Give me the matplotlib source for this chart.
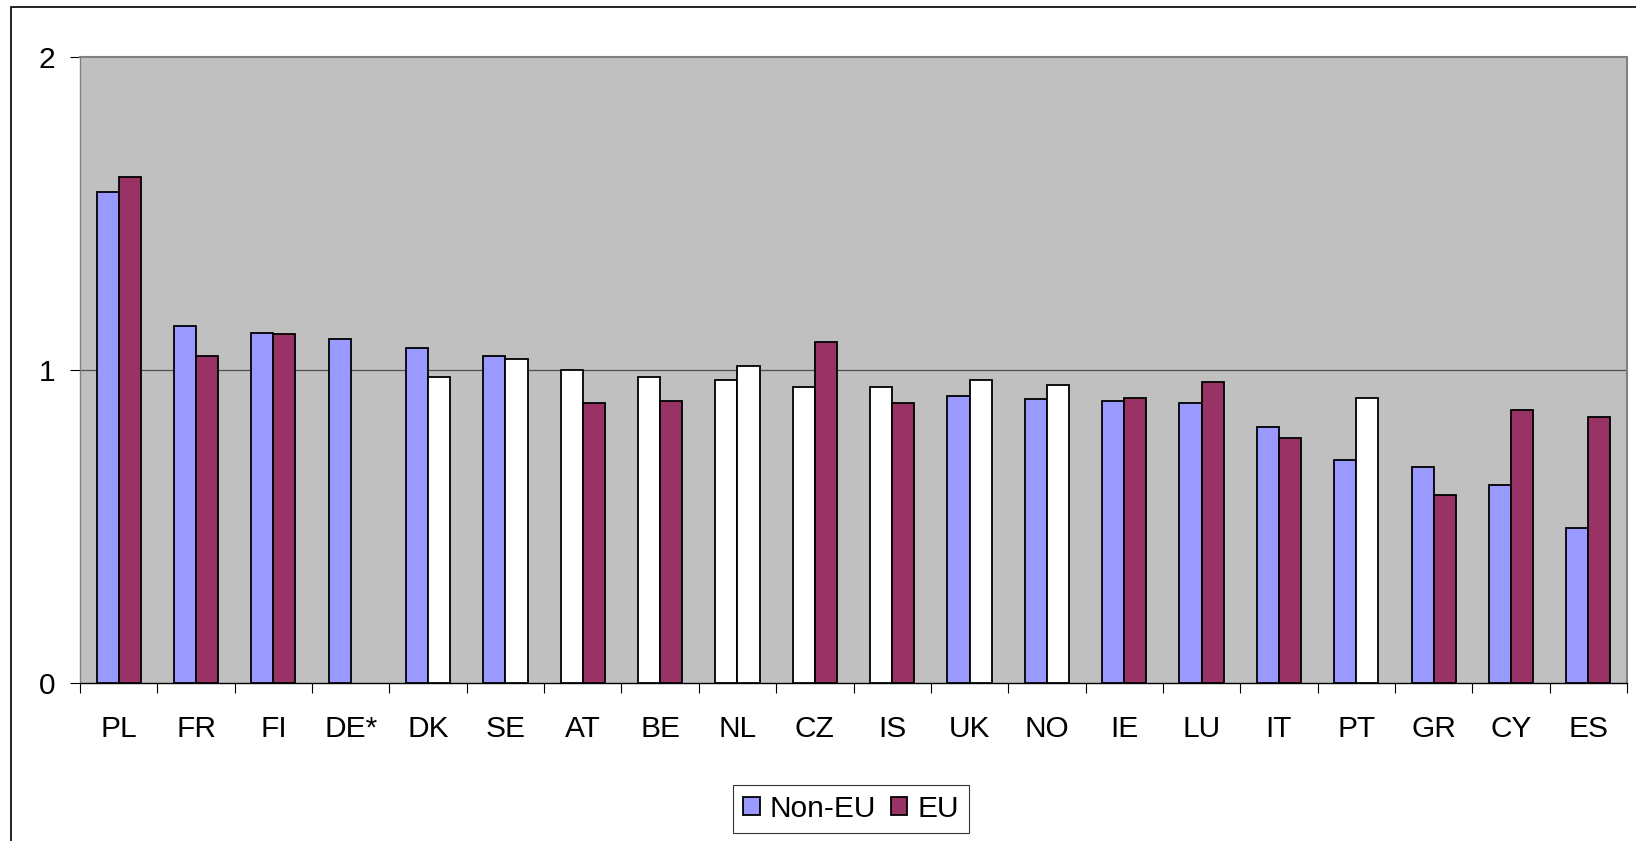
import matplotlib.pyplot as plt
import numpy as np
from matplotlib.patches import Rectangle

plt.rcParams['font.family'] = ['Liberation Sans', 'DejaVu Sans']

# Countries and indicator values
countries = ['PL', 'FR', 'FI', 'DE*', 'DK', 'SE', 'AT', 'BE', 'NL', 'CZ',
             'IS', 'UK', 'NO', 'IE', 'LU', 'IT', 'PT', 'GR', 'CY', 'ES']
non_eu = [1.57, 1.14, 1.12, 1.10, 1.07, 1.045, 1.00, 0.977, 0.969, 0.947,
          0.947, 0.916, 0.908, 0.902, 0.894, 0.819, 0.714, 0.691, 0.632, 0.495]
eu = [1.616, 1.045, 1.114, np.nan, 0.978, 1.037, 0.894, 0.902, 1.014, 1.089,
      0.894, 0.969, 0.954, 0.910, 0.963, 0.782, 0.910, 0.601, 0.872, 0.849]

# Values shown as blank bars
blank_non_eu = ['AT', 'BE', 'NL', 'CZ', 'IS']
blank_eu = ['DK', 'SE', 'NL', 'UK', 'NO', 'PT']

COL_NON_EU = '#9999FF'
COL_EU = '#993366'

fig = plt.figure(figsize=(16.36, 8.41), dpi=100)
ax = fig.add_axes([80 / 1636, 1 - 683.3 / 841, 1547 / 1636, (683.3 - 57) / 841])
ax.set_facecolor('#C0C0C0')

x = np.arange(len(countries))
w = 1 / 3.5

c1 = ['white' if c in blank_non_eu else COL_NON_EU for c in countries]
c2 = ['white' if c in blank_eu else COL_EU for c in countries]
ax.bar(x - w / 2, non_eu, w, color=c1, edgecolor='black', linewidth=1.3, zorder=3)
ax.bar(x + w / 2, eu, w, color=c2, edgecolor='black', linewidth=1.3, zorder=3)

ax.set_xlim(-0.5, len(countries) - 0.5)
ax.set_ylim(0, 2)
ax.set_yticks([0, 1, 2])
ax.set_yticklabels(['0', '1', '2'])
ax.axhline(1, color='#505050', linewidth=0.9, zorder=1)

ax.set_xticks(x)
ax.set_xticklabels(countries)
ax.set_xticks(np.arange(-0.5, len(countries)), minor=True)
ax.tick_params(axis='x', which='major', length=0, pad=22.8, labelsize=21.5)
ax.tick_params(axis='x', which='minor', length=7, width=0.8, direction='out')
ax.tick_params(axis='y', length=7, width=0.8, direction='out', pad=11, labelsize=21.5)

for side in ['top', 'right', 'left']:
    ax.spines[side].set_color('#808080')
    ax.spines[side].set_linewidth(1.5)
ax.spines['left'].set_linewidth(1.0)
ax.spines['bottom'].set_color('black')
ax.spines['bottom'].set_linewidth(1.0)

# Legend
h1 = Rectangle((0, 0), 1, 1, facecolor=COL_NON_EU, edgecolor='black', linewidth=1.3)
h2 = Rectangle((0, 0), 1, 1, facecolor=COL_EU, edgecolor='black', linewidth=1.3)
leg = fig.legend([h1, h2], ['Non-EU', 'EU'], loc='center', bbox_to_anchor=(851 / 1636, 1 - 809 / 841),
                 ncol=2, fontsize=21.5, frameon=True, fancybox=False, handlelength=0.55,
                 handleheight=0.55, handletextpad=0.33, columnspacing=0.5, borderpad=0.35)
leg.get_frame().set_edgecolor('black')
leg.get_frame().set_linewidth(0.8)

# Chart border
fig.patches.append(Rectangle((10.5 / 1636, -0.05), 1.1, 1.05 + (1 - 7 / 841) - 1,
                             transform=fig.transFigure, fill=False, edgecolor='black',
                             linewidth=1.2))

fig.savefig('out.png', dpi=100)
